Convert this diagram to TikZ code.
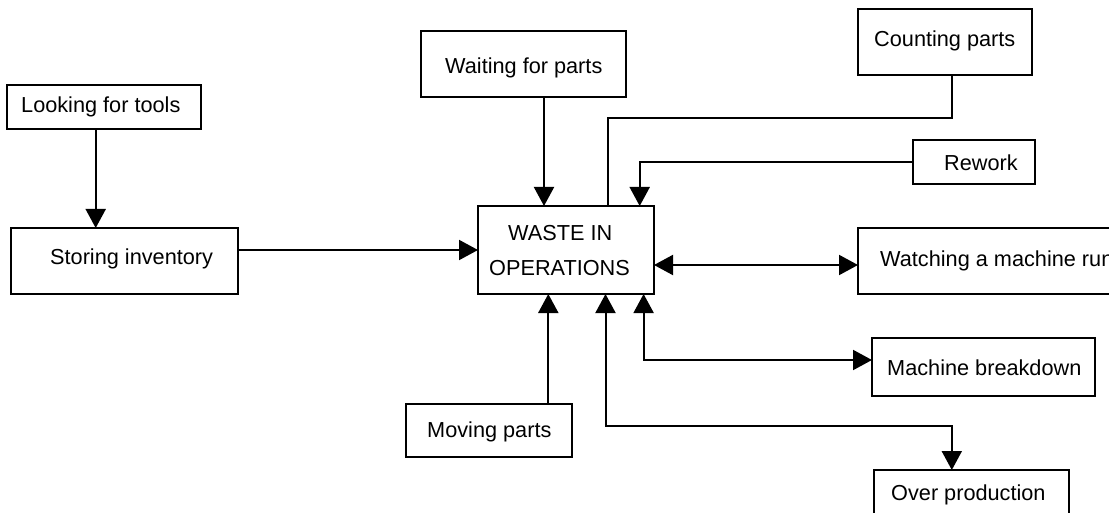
\documentclass[tikz,border=0pt]{standalone}
\usepackage{fontspec}
\setmainfont{Liberation Sans}
\usetikzlibrary{arrows.meta}
\begin{document}
\begin{tikzpicture}[x=1pt,y=-1pt,
  box/.style={draw, line width=1.8pt, inner sep=0pt, outer sep=0pt, anchor=north west},
  lbl/.style={inner sep=0pt, anchor=base west, font=\fontsize{21.7}{25}\selectfont},
  conn/.style={line width=2pt},
  arr/.style={conn, -{Triangle[length=19pt,width=20pt]}},
  darr/.style={conn, {Triangle[length=19pt,width=20pt]}-{Triangle[length=19pt,width=20pt]}}]
\useasboundingbox (0,0) rectangle (1109,513);
\clip (0,0) rectangle (1109,513);
% boxes
\node[box, minimum width=194pt, minimum height=44pt] (look) at (7,85) {};
\node[box, minimum width=227pt, minimum height=66pt] (stor) at (11,228) {};
\node[box, minimum width=205pt, minimum height=66pt] (wait) at (421,31) {};
\node[box, minimum width=174pt, minimum height=66pt] (count) at (858,9) {};
\node[box, minimum width=122pt, minimum height=44pt] (rew) at (913,140) {};
\node[box, minimum width=176pt, minimum height=88pt] (waste) at (478,206) {};
\node[box, minimum width=270pt, minimum height=66pt] (watch) at (858,228) {};
\node[box, minimum width=223pt, minimum height=58pt] (mach) at (872,338) {};
\node[box, minimum width=166pt, minimum height=53pt] (move) at (406,404) {};
\node[box, minimum width=195pt, minimum height=70pt] (over) at (874,470) {};
% labels
\node[lbl] (tlook) at (21,113) {Looking for tools};
\node[lbl] (tstor) at (50,264.5) {Storing inventory};
\node[lbl] (twait) at (445,74) {Waiting for parts};
\node[lbl] (tcount) at (874,46.5) {Counting parts};
\node[lbl] (trew) at (944,170.5) {Rework};
\node[lbl] (twaste1) at (508,241) {WASTE IN};
\node[lbl] (twaste2) at (489,276) {OPERATIONS};
\node[lbl] (twatch) at (880,266.5) {Watching a machine run};
\node[lbl] (tmach) at (887,375) {Machine breakdown};
\node[lbl] (tmove) at (427,437) {Moving parts};
\node[lbl] (tover) at (891,500.5) {Over production};
% connectors
\coordinate (cbend1) at (951.6,118.3);
\coordinate (cbend2) at (607.5,118.3);
\draw[arr] (95.7,0 |- look.south) -- (95.7,0 |- stor.north);
\draw[arr] (stor.east |- 0,250) -- (waste.west |- 0,250);
\draw[arr] (544,0 |- wait.south) -- (544,0 |- waste.north);
\draw[conn] (951.6,0 |- count.south) -- (cbend1) -- (cbend2) -- (607.5,0 |- waste.north);
\draw[arr] (rew.west |- 0,162.5) -| (639.7,0 |- waste.north);
\draw[darr] (waste.east |- 0,265) -- (watch.west |- 0,265);
\draw[arr] (548.3,0 |- move.north) -- (548.3,0 |- waste.south);
\draw[darr] (605.5,0 |- waste.south) |- (951.8,426) -- (951.8,0 |- over.north);
\draw[darr] (643.6,0 |- waste.south) |- (mach.west |- 0,360);
\end{tikzpicture}
\end{document}
